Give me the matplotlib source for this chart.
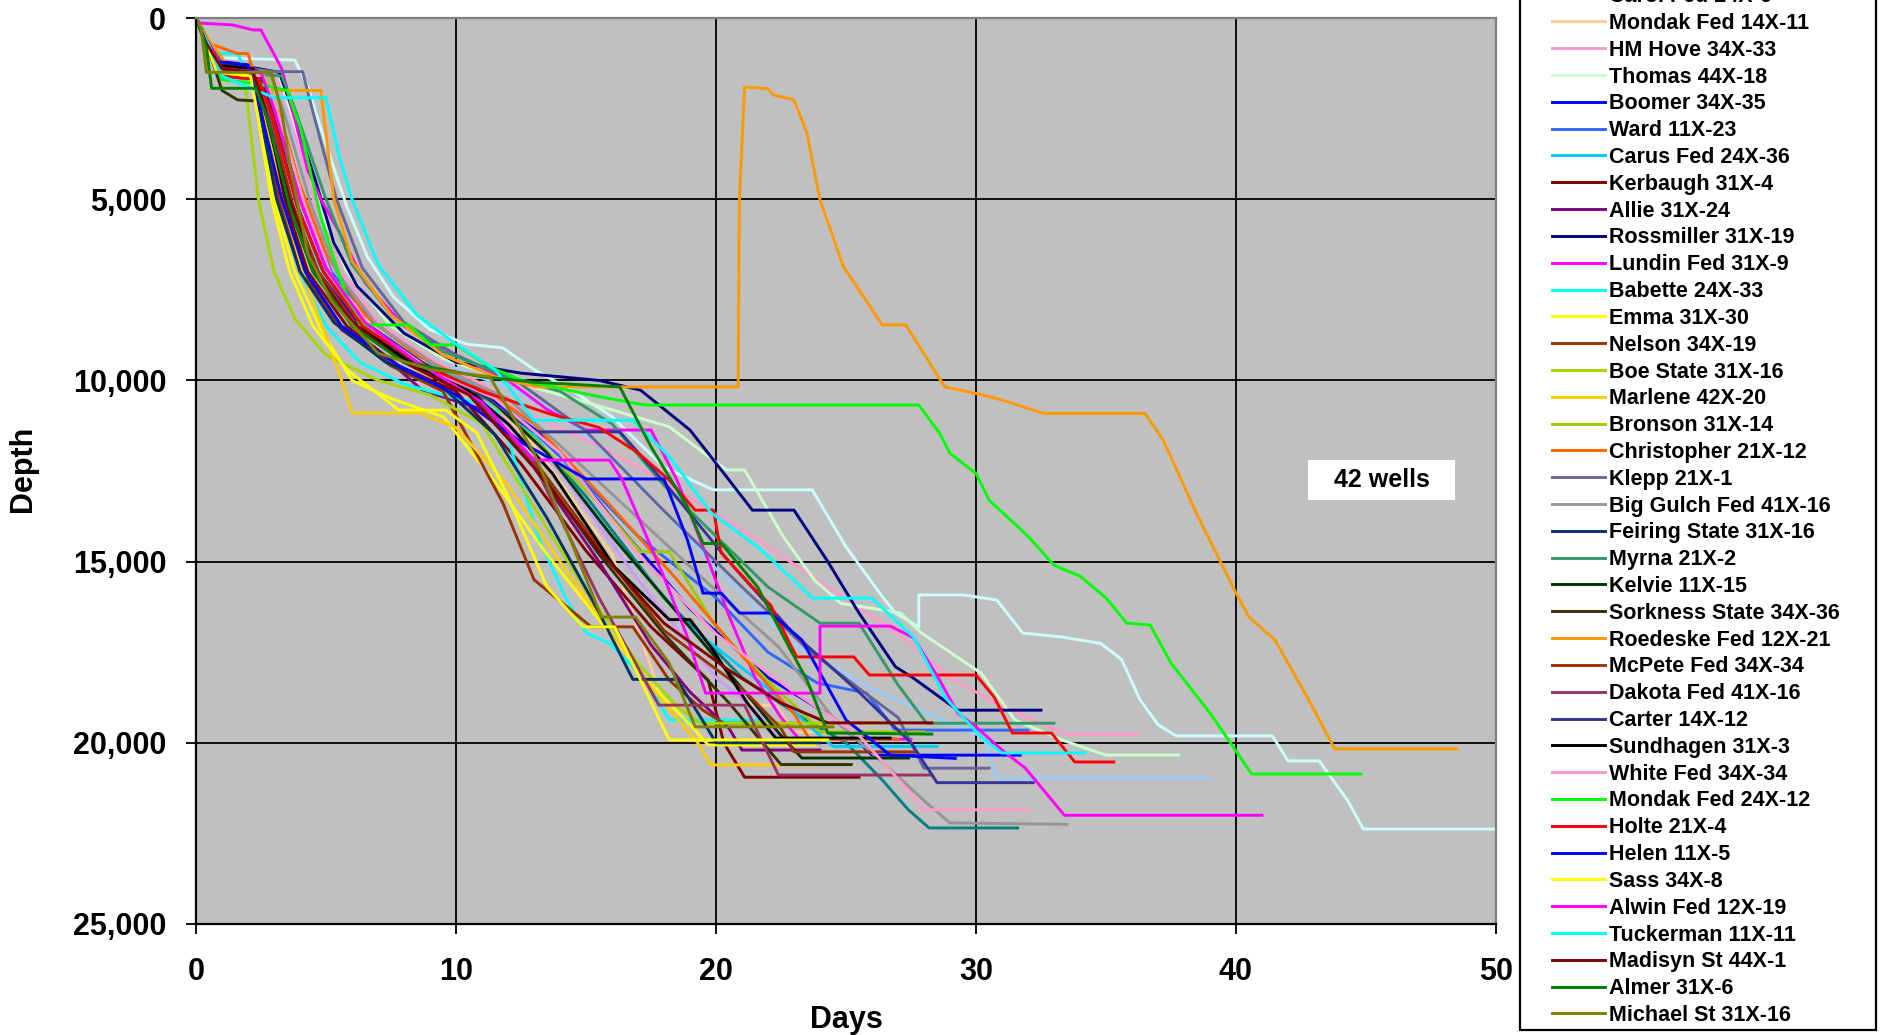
import matplotlib
matplotlib.use("Agg")
from matplotlib import pyplot as plt
from matplotlib.patches import Rectangle
from matplotlib.ticker import FuncFormatter

plt.rcParams['font.family'] = ['Liberation Sans', 'DejaVu Sans']

# (days, depth) points, one list per well.
# three wells whose legend entries are cut off at the top of the picture
hidden_pale_cyan = [(0, 0), (0.5, 600), (1.0, 1100), (3.8, 1160), (4.3, 1900), (5.0, 3500), (5.8, 5200),
                    (6.6, 6600), (7.6, 7700), (9.0, 8600), (10.4, 9000), (11.8, 9100), (13.0, 9700),
                    (14.5, 10300), (16.0, 11000), (18.0, 12400), (19.9, 13020), (23.7, 13020), (25.0, 14590),
                    (26.4, 15970), (26.9, 16420), (27.8, 16800), (27.8, 15920), (29.5, 15920), (30.8, 16060),
                    (31.8, 16970), (33.3, 17080), (34.8, 17260), (35.6, 17700), (36.3, 18800), (37.0, 19500),
                    (37.7, 19810), (41.4, 19810), (42.0, 20500), (43.2, 20500), (44.3, 21600), (44.9, 22380),
                    (50, 22380)]
hidden_light_blue = [(0, 0), (0.6, 900), (1.1, 1400), (3.0, 1500), (3.4, 2300), (4.5, 5000), (5.5, 7000),
                     (7.0, 8500), (9.0, 9400), (12.0, 10200), (14.0, 10900), (17.0, 12800), (20.0, 15200),
                     (23.0, 17300), (26.0, 18500), (28.5, 19300), (30.3, 19850), (30.8, 20970), (38.9, 20970)]
hidden_lavender = [(0, 0), (0.5, 800), (1.0, 1500), (2.5, 1600), (3.0, 2500), (4.0, 5200), (5.0, 7000),
                   (6.5, 8600), (8.5, 9600), (11.0, 10400), (14.0, 12500), (17.0, 15500), (20.0, 18200),
                   (21.5, 19100), (22.5, 19900), (27.0, 19900)]

carol_fed = [(0, 0), (0.4, 700), (1.0, 1600), (2.3, 1700), (2.8, 2600), (3.8, 5500), (4.8, 7200), (6.5, 8700),
             (9.0, 9800), (12.0, 10800), (15.0, 13200), (18.0, 16000), (21.0, 18200), (23.5, 19400),
             (25.0, 20000), (26.4, 21030), (27.4, 21850), (28.2, 22350), (31.6, 22350)]
mondak_14x11 = [(0, 0), (0.5, 1000), (1.2, 1500), (2.5, 1600), (3.0, 2400), (4.0, 5000), (5.0, 6800),
                (6.5, 8300), (8.5, 9500), (11.0, 10300), (13.0, 11800), (16.0, 14800), (18.0, 18960),
                (22.3, 18960), (23.0, 19700), (26.0, 19700)]
hm_hove = [(0, 0), (0.5, 900), (1.2, 1400), (3.0, 1500), (3.5, 2400), (4.6, 5200), (5.6, 7000), (7.0, 8400),
           (9.0, 9400), (11.0, 10100), (13.0, 11000), (15.5, 11800), (18.0, 12800), (21.6, 14400),
           (24.5, 15800), (27.0, 17000), (29.0, 18200), (31.0, 19000), (33.5, 19770), (36.2, 19770)]
thomas = [(0, 0), (0.5, 900), (1.2, 1500), (3.2, 1600), (3.6, 2500), (4.8, 5300), (5.8, 7000), (7.5, 8500),
          (9.5, 9400), (12.0, 10000), (15.0, 10600), (18.2, 11280), (20.4, 12470), (21.1, 12470),
          (22.6, 14330), (23.8, 15520), (24.8, 16150), (27.1, 16420), (27.9, 16970), (30.2, 18080),
          (31.5, 19370), (33.3, 19920), (35.0, 20340), (37.8, 20340)]
boomer = [(0, 0), (0.5, 800), (1.0, 1400), (2.2, 1500), (2.7, 2400), (3.7, 5200), (4.7, 7000), (6.3, 8500),
          (8.5, 9600), (11.0, 10300), (13.5, 11600), (16.0, 13800), (19.0, 16300), (22.0, 18200),
          (24.5, 19300), (26.0, 20340), (31.7, 20340)]
ward = [(0, 0), (0.4, 700), (1.1, 1500), (2.6, 1600), (3.1, 2500), (4.2, 5200), (5.2, 7000), (6.8, 8400),
        (9.0, 9500), (11.5, 10400), (14.0, 12100), (17.0, 14300), (20.0, 16000), (22.0, 17500), (23.9, 18350),
        (25.8, 18630), (26.9, 19650), (32.0, 19650)]
carus_fed = [(0, 0), (0.3, 600), (0.9, 1300), (2.4, 1400), (2.9, 2400), (3.8, 5000), (4.8, 6900), (6.2, 8300),
             (8.2, 9400), (10.5, 10100), (13.0, 11500), (16.0, 14300), (19.0, 16800), (22.0, 18500),
             (24.0, 19800), (24.5, 20100), (28.5, 20100)]
kerbaugh = [(0, 0), (0.4, 700), (0.9, 1300), (2.0, 1400), (2.5, 2300), (3.4, 5000), (4.3, 7000), (5.8, 8500),
            (7.8, 9600), (10.0, 10300), (12.5, 12300), (15.0, 14700), (17.5, 16800), (19.7, 18270),
            (20.3, 20000), (21.1, 20950), (25.5, 20950)]
allie = [(0, 0), (0.4, 600), (1.0, 1200), (2.1, 1300), (2.5, 2300), (3.3, 5000), (4.2, 7100), (5.6, 8600),
         (7.8, 9700), (8.7, 10270), (11.0, 10800), (13.0, 12400), (15.5, 15000), (17.5, 17300), (19.0, 18600),
         (20.5, 19600), (21.0, 20200), (24.0, 20200)]
rossmiller = [(0, 0), (0.4, 500), (0.9, 1200), (3.2, 1500), (3.6, 2300), (4.6, 4500), (5.3, 6200), (6.2, 7400),
              (8.0, 8700), (10.0, 9500), (12.5, 9800), (15.5, 10000), (17.1, 10270), (19.0, 11370),
              (20.2, 12470), (21.4, 13580), (23.0, 13580), (24.3, 15000), (25.5, 16420), (26.9, 17900),
              (27.6, 18220), (29.3, 19100), (32.5, 19100)]
lundin_fed = [(0, 0), (0.15, 140), (1.4, 190), (2.2, 330), (2.5, 330), (3.3, 1400), (4.3, 4200), (4.8, 5000),
              (5.5, 5900), (6.5, 7300), (8.0, 8500), (10.0, 9300), (12.0, 10000), (13.5, 10800), (15.0, 11370),
              (17.5, 11370), (18.5, 12750), (19.8, 15150), (20.5, 16500), (21.5, 18200), (22.5, 19300),
              (23.2, 19900), (27.5, 19900)]
babette = [(0, 0), (0.5, 980), (1.6, 980), (2.0, 1600), (2.6, 3000), (3.2, 5000), (4.0, 7000), (5.0, 8500),
           (6.3, 9500), (8.0, 10100), (10.0, 10500), (11.5, 10700), (12.0, 11600), (13.2, 14400),
           (14.2, 15970), (15.0, 16970), (15.9, 17250), (17.3, 18270), (18.2, 19370), (21.6, 19370)]
emma = [(0, 0), (0.3, 500), (0.8, 1400), (2.0, 1500), (2.4, 2600), (3.0, 5000), (3.8, 7000), (4.8, 8600),
        (6.0, 10000), (7.5, 10500), (9.5, 11000), (11.5, 12800), (13.5, 14800), (15.5, 16600), (17.5, 18400),
        (19.0, 19500), (19.7, 20060), (23.8, 20060)]
nelson = [(0, 0), (0.4, 700), (1.0, 1500), (2.1, 1600), (2.5, 2600), (3.2, 5000), (4.1, 7000), (5.4, 8400),
          (7.5, 9600), (9.5, 10300), (11.8, 13380), (13.0, 15500), (15.2, 16800), (16.8, 16800), (18.2, 18270),
          (19.5, 19100), (20.3, 19460), (23.0, 19460)]
boe_state = [(0, 0), (0.3, 400), (0.7, 1200), (1.8, 1400), (2.0, 2500), (2.4, 5000), (3.0, 7000), (3.8, 8300),
             (5.0, 9300), (7.0, 10000), (9.0, 10400), (11.0, 11200), (13.0, 13500), (15.0, 15800),
             (17.0, 17800), (18.5, 19000), (19.4, 19460), (26.9, 19460)]
marlene = [(0, 0), (0.3, 500), (0.8, 1300), (2.2, 1400), (2.6, 2500), (3.3, 5000), (4.2, 7200), (5.0, 8800),
           (5.6, 10000), (6.0, 10900), (8.6, 10900), (10.0, 11300), (12.0, 12900), (14.0, 15000),
           (16.0, 17000), (18.0, 18900), (19.3, 20000), (19.8, 20610), (23.8, 20610)]
bronson = [(0, 0), (0.5, 900), (1.1, 1500), (2.7, 1600), (3.1, 2500), (4.1, 5200), (5.1, 7000), (6.6, 8600),
           (8.8, 9700), (11.0, 10400), (13.0, 11600), (15.5, 13400), (17.1, 14730), (18.2, 14730),
           (20.0, 16800), (22.0, 18300), (23.5, 19300), (24.0, 19700), (28.0, 19700)]
christopher = [(0, 0), (0.5, 700), (1.6, 980), (2.0, 980), (2.3, 1700), (3.2, 2600), (4.0, 4600), (5.0, 6500),
               (6.5, 8200), (8.5, 9300), (11.0, 10200), (13.0, 11200), (16.0, 13500), (18.5, 15500),
               (21.0, 17600), (23.0, 19200), (23.6, 19900), (27.0, 19900)]
klepp = [(0, 0), (0.5, 700), (1.2, 1300), (3.0, 1480), (4.1, 1480), (4.5, 2600), (5.4, 5000), (6.4, 6900),
         (8.0, 8400), (10.0, 9300), (12.5, 10100), (15.0, 11400), (18.0, 13600), (21.0, 15700), (23.5, 17400),
         (25.5, 18500), (27.0, 19300), (28.0, 20700), (30.5, 20700)]
big_gulch_fed = [(0, 0), (0.4, 700), (1.1, 1400), (2.8, 1500), (3.3, 2400), (4.4, 5100), (5.4, 7000),
                 (7.0, 8500), (9.5, 9700), (12.0, 10500), (14.0, 11800), (17.0, 13800), (20.0, 15800),
                 (22.4, 17350), (24.6, 19400), (26.5, 20600), (28.1, 21660), (29.0, 22210), (33.5, 22250)]
feiring_state = [(0, 0), (0.3, 600), (0.9, 1300), (2.0, 1400), (2.4, 2400), (3.1, 5000), (4.0, 7000),
                 (5.3, 8400), (7.3, 9500), (9.5, 10200), (11.5, 11500), (13.5, 13800), (15.5, 16400),
                 (16.8, 18250), (18.5, 18250), (19.5, 19400), (20.0, 20000), (24.0, 20000)]
myrna = [(0, 0), (0.5, 800), (1.3, 1500), (3.3, 1600), (3.8, 2500), (5.0, 5000), (6.0, 6800), (7.5, 8200),
         (9.5, 9200), (12.0, 9900), (14.0, 10300), (16.0, 11200), (18.0, 12900), (20.0, 14300), (22.0, 15700),
         (24.0, 16700), (25.5, 16700), (27.0, 18400), (28.1, 19460), (33.0, 19460)]
kelvie = [(0, 0), (0.4, 600), (1.0, 1400), (2.4, 1500), (2.9, 2500), (3.9, 5200), (4.9, 7000), (6.4, 8500),
          (8.6, 9600), (11.0, 10300), (13.5, 12000), (16.0, 14300), (18.5, 16400), (21.0, 18500),
          (22.5, 19800), (23.3, 20420), (27.4, 20420)]
sorkness_state = [(0, 0), (0.5, 900), (1.0, 2000), (1.6, 2260), (2.6, 2300), (3.0, 3200), (3.8, 5400),
                  (4.7, 7100), (6.2, 8500), (8.4, 9600), (10.8, 10400), (13.0, 12300), (15.5, 14800),
                  (18.0, 17000), (20.5, 18900), (21.8, 20000), (22.5, 20600), (25.2, 20600)]
roedeske_fed = [(0, 0), (0.5, 600), (1.2, 1300), (3.0, 2000), (4.8, 2000), (5.3, 5000), (6.0, 6700),
                (7.5, 8200), (9.5, 9300), (11.5, 9900), (13.1, 10180), (20.85, 10180), (20.9, 4970),
                (21.1, 1900), (22.0, 1950), (22.2, 2120), (23.0, 2260), (23.5, 3180), (24.0, 5020),
                (24.9, 6860), (26.4, 8470), (27.3, 8470), (28.8, 10180), (30.0, 10360), (31.0, 10540),
                (32.6, 10910), (36.5, 10910), (37.2, 11650), (38.5, 13700), (40.0, 15870), (40.5, 16530),
                (41.5, 17160), (42.8, 18820), (43.8, 20170), (48.5, 20170)]
mcpete_fed = [(0, 0), (0.4, 700), (1.0, 1500), (2.4, 1600), (2.8, 2500), (3.7, 5100), (4.7, 7000), (6.2, 8500),
              (8.3, 9600), (10.5, 10400), (13.0, 12200), (15.5, 14600), (18.0, 16900), (21.0, 18500),
              (22.5, 19600), (23.0, 20250), (27.6, 20250)]
dakota_fed = [(0, 0), (0.4, 600), (1.0, 1300), (2.3, 1400), (2.7, 2400), (3.6, 5000), (4.6, 7000), (6.0, 8400),
              (8.2, 9500), (10.5, 10300), (13.0, 12300), (15.5, 16000), (17.8, 18960), (21.1, 18960),
              (22.4, 20890), (28.3, 20890)]
carter = [(0, 0), (0.4, 600), (1.0, 1400), (2.5, 1500), (3.0, 2500), (4.0, 5000), (5.0, 6900), (6.5, 8400),
          (8.7, 9500), (11.0, 10400), (13.0, 11420), (16.3, 11420), (18.0, 12800), (20.5, 15000), (23.0, 17000),
          (25.5, 18600), (27.5, 20000), (28.5, 21100), (32.2, 21100)]
sundhagen = [(0, 0), (0.4, 600), (0.9, 1300), (2.2, 1400), (2.6, 2400), (3.5, 5000), (4.5, 7000), (6.0, 8400),
             (8.2, 9500), (10.5, 10300), (12.0, 11200), (13.7, 12560), (16.1, 15150), (18.2, 16600),
             (19.0, 16600), (19.8, 17350), (21.2, 18900), (22.3, 19870), (26.7, 19870)]
white_fed = [(0, 0), (0.4, 800), (1.0, 1500), (2.6, 1600), (3.1, 2500), (4.2, 5200), (5.2, 7100), (6.8, 8600),
             (9.0, 9700), (11.5, 10500), (14.0, 12000), (17.0, 14800), (20.0, 17000), (23.0, 18600),
             (25.5, 19800), (27.0, 21000), (28.0, 21850), (32.0, 21850)]
mondak_24x12 = [(0, 0), (0.4, 700), (1.0, 1700), (2.2, 1800), (3.5, 2000), (4.0, 3000), (4.8, 5500),
                (5.6, 7300), (6.3, 8470), (8.2, 8470), (9.0, 9020), (10.0, 9020), (11.3, 9630), (12.5, 9990),
                (15.5, 10450), (17.3, 10680), (27.8, 10680), (28.6, 11460), (29.0, 12010), (30.0, 12570),
                (30.5, 13300), (32.0, 14300), (33.0, 15100), (34.0, 15400), (35.0, 16000), (35.8, 16700),
                (36.7, 16750), (37.5, 17800), (39.0, 19180), (39.9, 20120), (40.6, 20860), (44.8, 20860)]
holte = [(0, 0), (0.4, 700), (1.0, 1600), (2.4, 1700), (2.9, 2600), (3.9, 5200), (4.9, 7000), (6.4, 8500),
         (8.5, 9500), (11.0, 10300), (13.5, 10900), (15.5, 11300), (17.0, 12000), (18.2, 12750), (19.2, 13580),
         (19.9, 13580), (20.2, 14760), (21.4, 15700), (22.1, 16200), (23.1, 17630), (25.3, 17630),
         (25.9, 18130), (30.0, 18130), (30.7, 18740), (31.4, 19730), (32.9, 19730), (33.8, 20530),
         (35.3, 20530)]
helen = [(0, 0), (0.3, 500), (0.8, 1200), (2.0, 1300), (2.4, 2300), (3.3, 5000), (4.2, 7000), (5.6, 8500),
         (7.8, 9600), (10.0, 10400), (12.5, 11700), (15.0, 12720), (18.0, 12720), (18.9, 14400), (19.5, 15870),
         (20.2, 15870), (20.9, 16420), (22.1, 16420), (23.3, 17160), (25.0, 19370), (26.7, 20340),
         (29.2, 20430)]
sass = [(0, 0), (0.3, 500), (0.8, 1500), (2.1, 1600), (2.4, 2800), (2.9, 5000), (3.6, 7000), (4.5, 8500),
        (5.8, 9700), (7.8, 10820), (9.6, 10820), (10.8, 11450), (12.0, 13200), (13.5, 15700), (14.4, 16420),
        (14.9, 16800), (16.1, 16800), (17.1, 18270), (18.2, 19920), (24.3, 19920)]
alwin_fed = [(0, 0), (0.4, 600), (1.0, 1400), (2.5, 1500), (3.0, 2500), (4.0, 5000), (5.0, 6900), (6.5, 8400),
             (8.5, 9500), (11.0, 10600), (13.0, 12200), (15.9, 12200), (16.4, 12750), (18.0, 15430),
             (18.9, 17080), (19.6, 18630), (24.0, 18630), (24.0, 16780), (26.7, 16780), (27.6, 17100),
             (28.6, 18270), (29.3, 19180), (30.0, 19560), (31.0, 20200), (31.9, 20700), (33.4, 22000),
             (41.0, 22000)]
tuckerman = [(0, 0), (0.4, 600), (1.0, 1600), (3.0, 2200), (5.0, 2200), (5.5, 3800), (6.0, 5000), (7.0, 6800),
             (8.5, 8200), (10.0, 9000), (11.5, 9700), (13.0, 11100), (16.8, 11100), (18.2, 12100),
             (19.8, 13650), (21.6, 14590), (23.0, 15520), (23.7, 16010), (26.0, 16010), (27.6, 17080),
             (28.8, 18740), (30.2, 19840), (31.0, 20280), (34.2, 20280)]
madisyn_st = [(0, 0), (0.4, 700), (1.0, 1400), (2.2, 1500), (2.6, 2400), (3.6, 5000), (4.6, 7000), (6.0, 8400),
              (8.0, 9500), (10.5, 10400), (13.0, 12400), (15.5, 14700), (18.0, 16700), (20.5, 18000),
              (22.5, 18900), (24.3, 19450), (28.3, 19450)]
almer = [(0, 0), (0.4, 800), (0.6, 1940), (2.3, 1940), (2.8, 2900), (3.6, 5200), (4.5, 7000), (6.0, 8500),
         (8.0, 9500), (11.0, 9900), (13.0, 10050), (16.3, 10180), (17.5, 11830), (18.9, 13490), (19.5, 14500),
         (20.2, 14500), (21.6, 15700), (22.8, 17350), (23.5, 18270), (24.3, 19730), (28.3, 19760)]
michael_st = [(0, 0), (0.2, 300), (0.4, 1500), (2.9, 1500), (3.3, 2600), (3.6, 4000), (4.3, 6500), (5.2, 7800),
              (7.0, 9250), (9.0, 9700), (11.3, 9900), (13.0, 12000), (14.4, 14400), (15.6, 16530), (16.9, 16530),
              (18.2, 17800), (19.2, 19560), (24.5, 19560)]

hidden_wells = [hidden_pale_cyan, hidden_light_blue, hidden_lavender]
hidden_colors = ['#CCFFFF', '#99CCFF', '#CC99FF']

well_names = ['Carol Fed 24X-6', 'Mondak Fed 14X-11', 'HM Hove 34X-33', 'Thomas 44X-18', 'Boomer 34X-35',
              'Ward 11X-23', 'Carus Fed 24X-36', 'Kerbaugh 31X-4', 'Allie 31X-24', 'Rossmiller 31X-19',
              'Lundin Fed 31X-9', 'Babette 24X-33', 'Emma 31X-30', 'Nelson 34X-19', 'Boe State 31X-16',
              'Marlene 42X-20', 'Bronson 31X-14', 'Christopher 21X-12', 'Klepp 21X-1', 'Big Gulch Fed 41X-16',
              'Feiring State 31X-16', 'Myrna 21X-2', 'Kelvie 11X-15', 'Sorkness State 34X-36',
              'Roedeske Fed 12X-21', 'McPete Fed 34X-34', 'Dakota Fed 41X-16', 'Carter 14X-12',
              'Sundhagen 31X-3', 'White Fed 34X-34', 'Mondak Fed 24X-12', 'Holte 21X-4', 'Helen 11X-5',
              'Sass 34X-8', 'Alwin Fed 12X-19', 'Tuckerman 11X-11', 'Madisyn St 44X-1', 'Almer 31X-6',
              'Michael St 31X-16']
well_data = [carol_fed, mondak_14x11, hm_hove, thomas, boomer, ward, carus_fed, kerbaugh, allie, rossmiller,
             lundin_fed, babette, emma, nelson, boe_state, marlene, bronson, christopher, klepp, big_gulch_fed,
             feiring_state, myrna, kelvie, sorkness_state, roedeske_fed, mcpete_fed, dakota_fed, carter,
             sundhagen, white_fed, mondak_24x12, holte, helen, sass, alwin_fed, tuckerman, madisyn_st, almer,
             michael_st]
well_colors = ['#008080', '#FFCC99', '#FF99CC', '#CCFFCC', '#0000FF', '#3366FF', '#00CCFF', '#800000',
               '#800080', '#000080', '#FF00FF', '#00FFFF', '#FFFF00', '#993300', '#A6D600', '#FFCC00',
               '#99CC00', '#FF6600', '#666699', '#969696', '#003366', '#339966', '#003300', '#333300',
               '#FF9900', '#993300', '#993366', '#333399', '#000000', '#FF99CC', '#00FF00', '#FF0000',
               '#0000FF', '#FFFF00', '#FF00FF', '#00FFFF', '#800000', '#008000', '#808000']

W, H = 1883, 1035
fig = plt.figure(figsize=(W / 100, H / 100), dpi=100)
ax = fig.add_axes([196 / W, (H - 924) / H, 1300 / W, 906 / H])
ax.set_facecolor('#C0C0C0')

for pts, col in zip(hidden_wells, hidden_colors):
    ax.plot([p[0] for p in pts], [p[1] for p in pts], color=col, lw=2.1)

handles = []
for pts, col, name in zip(well_data, well_colors, well_names):
    line, = ax.plot([p[0] for p in pts], [p[1] for p in pts], color=col, lw=2.1, label=name)
    handles.append(line)

ax.set_xlim(0, 50)
ax.set_ylim(25000, 0)
ax.set_xticks(range(0, 51, 10))
ax.set_yticks(range(0, 25001, 5000))
ax.yaxis.set_major_formatter(FuncFormatter(lambda v, p: f"{int(v):,}"))
ax.grid(True, color='black', lw=1.3)
ax.set_axisbelow(True)
ax.tick_params(axis='both', direction='out', length=7.5, width=1.3, labelsize=22)
ax.tick_params(axis='y', pad=14)
ax.tick_params(axis='x', pad=16)
for lab in ax.get_xticklabels() + ax.get_yticklabels():
    lab.set_fontweight('bold')
for side in ['left', 'bottom']:
    ax.spines[side].set_color('black')
    ax.spines[side].set_linewidth(1.6)
for side in ['top', 'right']:
    ax.spines[side].set_color('#808080')
    ax.spines[side].set_linewidth(1.6)

fig.text(23 / W, (H - 469) / H, 'Depth', rotation=90, ha='center', va='center', fontsize=22, fontweight='bold')
fig.text(846 / W, (H - 1020) / H, 'Days', ha='center', va='center', fontsize=22, fontweight='bold')

# "42 wells" note
ax.add_patch(Rectangle((42.77, 12197), 5.65, 1103, facecolor='white', edgecolor='none', zorder=5))
ax.text(45.6, 12750, '42 wells', ha='center', va='center', fontsize=18, fontweight='bold', zorder=6)

# legend frame runs off the top of the picture
fig.patches.append(Rectangle((1520 / W, (H - 1030) / H), 356 / W, 1.2, transform=fig.transFigure,
                             facecolor='white', edgecolor='black', lw=1.6, zorder=0))
fig.legend(handles=handles, loc='lower left', bbox_to_anchor=(1552 / W, (H - 1026) / H),
           frameon=False, borderpad=0, borderaxespad=0, handlelength=2.45, handletextpad=0.2,
           labelspacing=0.27, prop={'family': 'Liberation Sans', 'weight': 'bold', 'size': 15.5})

fig.savefig('out.png', dpi=100)
